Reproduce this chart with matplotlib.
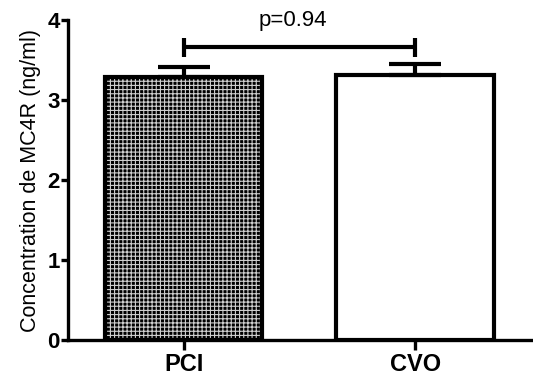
import matplotlib
matplotlib.use("Agg")
import matplotlib.pyplot as plt

plt.rcParams['font.family'] = ['Liberation Sans', 'DejaVu Sans']
plt.rcParams['hatch.linewidth'] = 0.8

# data
groups = ["PCI", "CVO"]
means = [3.29, 3.31]
sems = [0.12, 0.14]
p_label = "p=0.94"
sig_y = 3.66

fig = plt.figure(figsize=(5.33, 3.78), dpi=100)
ax = fig.add_axes([0.128, 0.1005, 0.872, 0.8465])

x = list(range(len(groups)))
width = 0.68

# PCI bar: black with light pattern, CVO bar: white
ax.bar(x[0], means[0], width, color="black", edgecolor="#d0d0d0", hatch="++++", linewidth=0, zorder=2)
ax.bar(x, means, width, fill=False, edgecolor="black", linewidth=3, zorder=3)
ax.bar(x[1], means[1], width, color="white", linewidth=0, zorder=1)

# upper error bars only
ax.errorbar(x, means, yerr=[[0, 0], sems], fmt="none", ecolor="black",
            elinewidth=3, capsize=19, capthick=3, zorder=4)

# significance bracket
ax.plot([x[0], x[1]], [sig_y, sig_y], color="black", lw=3, solid_capstyle="butt")
ax.plot([x[0], x[0]], [sig_y - 0.12, sig_y + 0.12], color="black", lw=3, solid_capstyle="butt")
ax.plot([x[1], x[1]], [sig_y - 0.12, sig_y + 0.12], color="black", lw=3, solid_capstyle="butt")
ax.text(0.47, 4.0, p_label, ha="center", va="center", fontsize=16, clip_on=False)

ax.set_xlim(-0.5, 1.51)
ax.set_ylim(0, 4)
ax.set_yticks([0, 1, 2, 3, 4])
ax.set_xticks(x)
ax.set_xticklabels(groups, fontsize=17, fontweight="bold")
for lab in ax.get_yticklabels():
    lab.set_fontweight("bold")
    lab.set_fontsize(16)
ax.set_ylabel("Concentration de MC4R (ng/ml)", fontsize=15.5, labelpad=5)

for s in ["top", "right"]:
    ax.spines[s].set_visible(False)
ax.spines["left"].set_linewidth(2.4)
ax.spines["bottom"].set_linewidth(2.4)
ax.tick_params(axis="y", width=2.4, length=5, direction="out", pad=1)
ax.tick_params(axis="x", width=2.4, length=7, direction="out", pad=2)

fig.savefig("out.png", dpi=100)
